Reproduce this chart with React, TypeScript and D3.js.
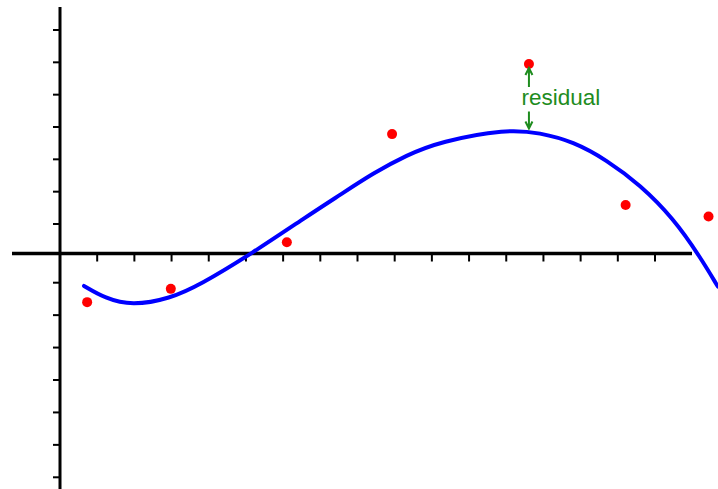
import { useEffect, useRef } from "react";
import * as d3 from "d3";

// observed data points (x in tick units, y in tick units)
const pointX = [0.73, 2.98, 6.1, 8.93, 12.61, 15.21, 17.44];
const pointY = [-1.6, -1.19, 0.38, 3.78, 5.95, 1.59, 1.23];

// fitted curve
const curveX = [0.645, 1.21, 1.93, 2.96, 3.76, 5.16, 6.63, 7.53, 8.42, 9.32, 10.22, 12.01, 12.91, 13.8, 14.7, 15.6, 16.49, 17.21, 17.69];
const curveY = [-1.1, -1.48, -1.71, -1.49, -1.07, 0, 1.23, 1.9, 2.57, 3.13, 3.55, 3.94, 3.82, 3.55, 2.98, 2.21, 1.18, -0.11, -1.12];

const xTicks = d3.range(1, 17);
const yTicks = [-7, -6, -5, -4, -3, -2, -1, 1, 2, 3, 4, 5, 6, 7];

const residualIndex = 4;
const residualLabel = "residual";

const App = () => {
  const svgRef = useRef<SVGSVGElement>(null);
  const width = 718;
  const height = 489;

  useEffect(() => {
    const svg = d3.select(svgRef.current);
    svg.selectAll("*").remove();

    const x = d3.scaleLinear().domain([0, 16]).range([60, 655]);
    const y = d3.scaleLinear()
      .domain([-7, -1, 0, 1, 7])
      .range([477.3, 282.7, 253.5, 224, 30]);

    // axes
    svg.append("line")
      .attr("x1", 12).attr("x2", 692)
      .attr("y1", y(0)).attr("y2", y(0))
      .attr("stroke", "#000").attr("stroke-width", 3.5);

    svg.append("line")
      .attr("x1", x(0)).attr("x2", x(0))
      .attr("y1", 7).attr("y2", height)
      .attr("stroke", "#000").attr("stroke-width", 3);

    svg.append("g")
      .selectAll("line")
      .data(xTicks)
      .join("line")
      .attr("x1", d => x(d)).attr("x2", d => x(d))
      .attr("y1", y(0)).attr("y2", y(0) + 8)
      .attr("stroke", "#000").attr("stroke-width", 2);

    svg.append("g")
      .selectAll("line")
      .data(yTicks)
      .join("line")
      .attr("x1", x(0) - 7).attr("x2", x(0))
      .attr("y1", d => y(d)).attr("y2", d => y(d))
      .attr("stroke", "#000").attr("stroke-width", 2);

    // fitted curve
    const line = d3.line<number>()
      .x(i => x(curveX[i]))
      .y(i => y(curveY[i]))
      .curve(d3.curveBasis);

    svg.append("path")
      .attr("d", line(d3.range(curveX.length)))
      .attr("fill", "none")
      .attr("stroke", "#0000ff")
      .attr("stroke-width", 4)
      .attr("stroke-linecap", "round");

    // points
    svg.append("g")
      .selectAll("circle")
      .data(pointX)
      .join("circle")
      .attr("cx", d => x(d))
      .attr("cy", (d, i) => y(pointY[i]))
      .attr("r", 5)
      .attr("fill", "#ff0000");

    // residual annotation
    const green = "#1e8c1e";
    const ax = x(pointX[residualIndex]);
    const top = y(pointY[residualIndex]) + 4;
    const bottom = 128.5;
    const ann = svg.append("g")
      .attr("stroke", green)
      .attr("stroke-width", 2)
      .attr("fill", "none");

    ann.append("path")
      .attr("d", `M${ax},${top + 19}V${top} M${ax - 3.5},${top + 7}L${ax},${top}L${ax + 3.5},${top + 7}`);
    ann.append("path")
      .attr("d", `M${ax},${bottom - 17}V${bottom} M${ax - 3.5},${bottom - 7}L${ax},${bottom}L${ax + 3.5},${bottom - 7}`);

    svg.append("text")
      .attr("x", ax - 7.5)
      .attr("y", 105)
      .attr("fill", green)
      .attr("font-family", "'Liberation Sans', Arial, sans-serif")
      .attr("font-size", 22.5)
      .text(residualLabel);
  }, []);

  return (
    <svg
      ref={svgRef}
      width={width}
      height={height}
      style={{ position: "absolute", left: 0, top: 0, background: "#fff" }}
    ></svg>
  );
};

export default App;
